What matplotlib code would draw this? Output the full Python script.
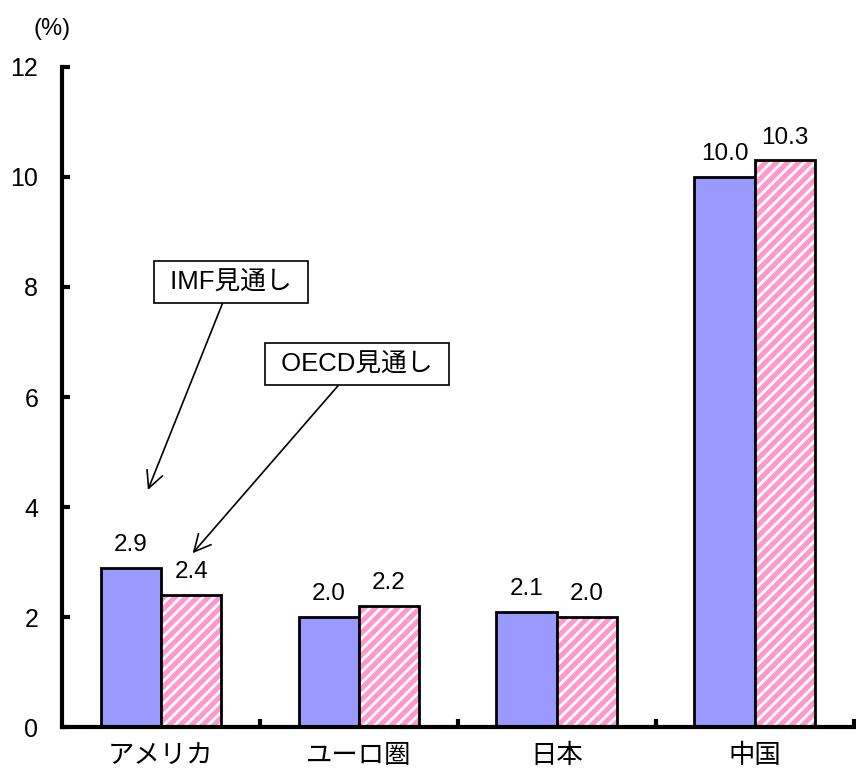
import numpy as np
import matplotlib.pyplot as plt

plt.rcParams['font.family'] = ['Liberation Sans', 'Noto Sans CJK JP']
plt.rcParams['hatch.linewidth'] = 2.0

categories = ['アメリカ', 'ユーロ圏', '日本', '中国']
imf = [2.9, 2.0, 2.1, 10.0]
oecd = [2.4, 2.2, 2.0, 10.3]
yticks = [0, 2, 4, 6, 8, 10, 12]

fig = plt.figure(figsize=(8.56, 7.76), dpi=100)
ax = fig.add_axes([0.0724, 0.0631, 0.925, 0.8506])

x = np.arange(len(categories))
w = 0.305
ax.bar(x - w / 2, imf, w, color='#9999FF', edgecolor='black', linewidth=2, zorder=2)
ax.bar(x + w / 2, oecd, w, color='#FF99CC', edgecolor='white', hatch='///',
       linewidth=0, zorder=2)
ax.bar(x + w / 2, oecd, w, fill=False, edgecolor='black', linewidth=2, zorder=3)

for xi, v in zip(x - w / 2, imf):
    ax.annotate(f'{v:.1f}', (xi, v), xytext=(0, 12), textcoords='offset points',
                ha='center', va='baseline', fontsize=17.5)
for xi, v in zip(x + w / 2, oecd):
    ax.annotate(f'{v:.1f}', (xi, v), xytext=(0, 12), textcoords='offset points',
                ha='center', va='baseline', fontsize=17.5)

ax.set_xlim(-0.5, 3.5)
ax.set_ylim(0, 12)
ax.set_yticks(yticks)
ax.tick_params(axis='y', direction='in', length=6, width=3, labelsize=18, pad=17)
ax.set_xticks(x)
ax.set_xticklabels(categories, fontsize=19)
ax.tick_params(axis='x', length=0, pad=12)
ax.set_xticks(np.arange(0.5, 4, 1), minor=True)
ax.tick_params(axis='x', which='minor', direction='in', length=6, width=3)

for s in ['top', 'right']:
    ax.spines[s].set_visible(False)
ax.spines['left'].set_linewidth(3)
ax.spines['bottom'].set_linewidth(3)

fig.text(0.061, 0.963, '(%)', fontsize=17, ha='center', va='center')

box = dict(boxstyle='square,pad=0.35', fc='white', ec='black', lw=1.2)
arrow = dict(arrowstyle='->', color='black', lw=1.2, mutation_scale=30, shrinkA=0, shrinkB=0)
ax.annotate(' IMF見通し ', xy=(-0.066, 4.31), xytext=(0.354, 8.09), fontsize=18.5,
            ha='center', va='center', bbox=box, arrowprops=arrow)
ax.annotate(' OECD見通し ', xy=(0.16, 3.16), xytext=(0.99, 6.6), fontsize=18.5,
            ha='center', va='center', bbox=box, arrowprops=arrow)

fig.savefig('out.png', dpi=100)
